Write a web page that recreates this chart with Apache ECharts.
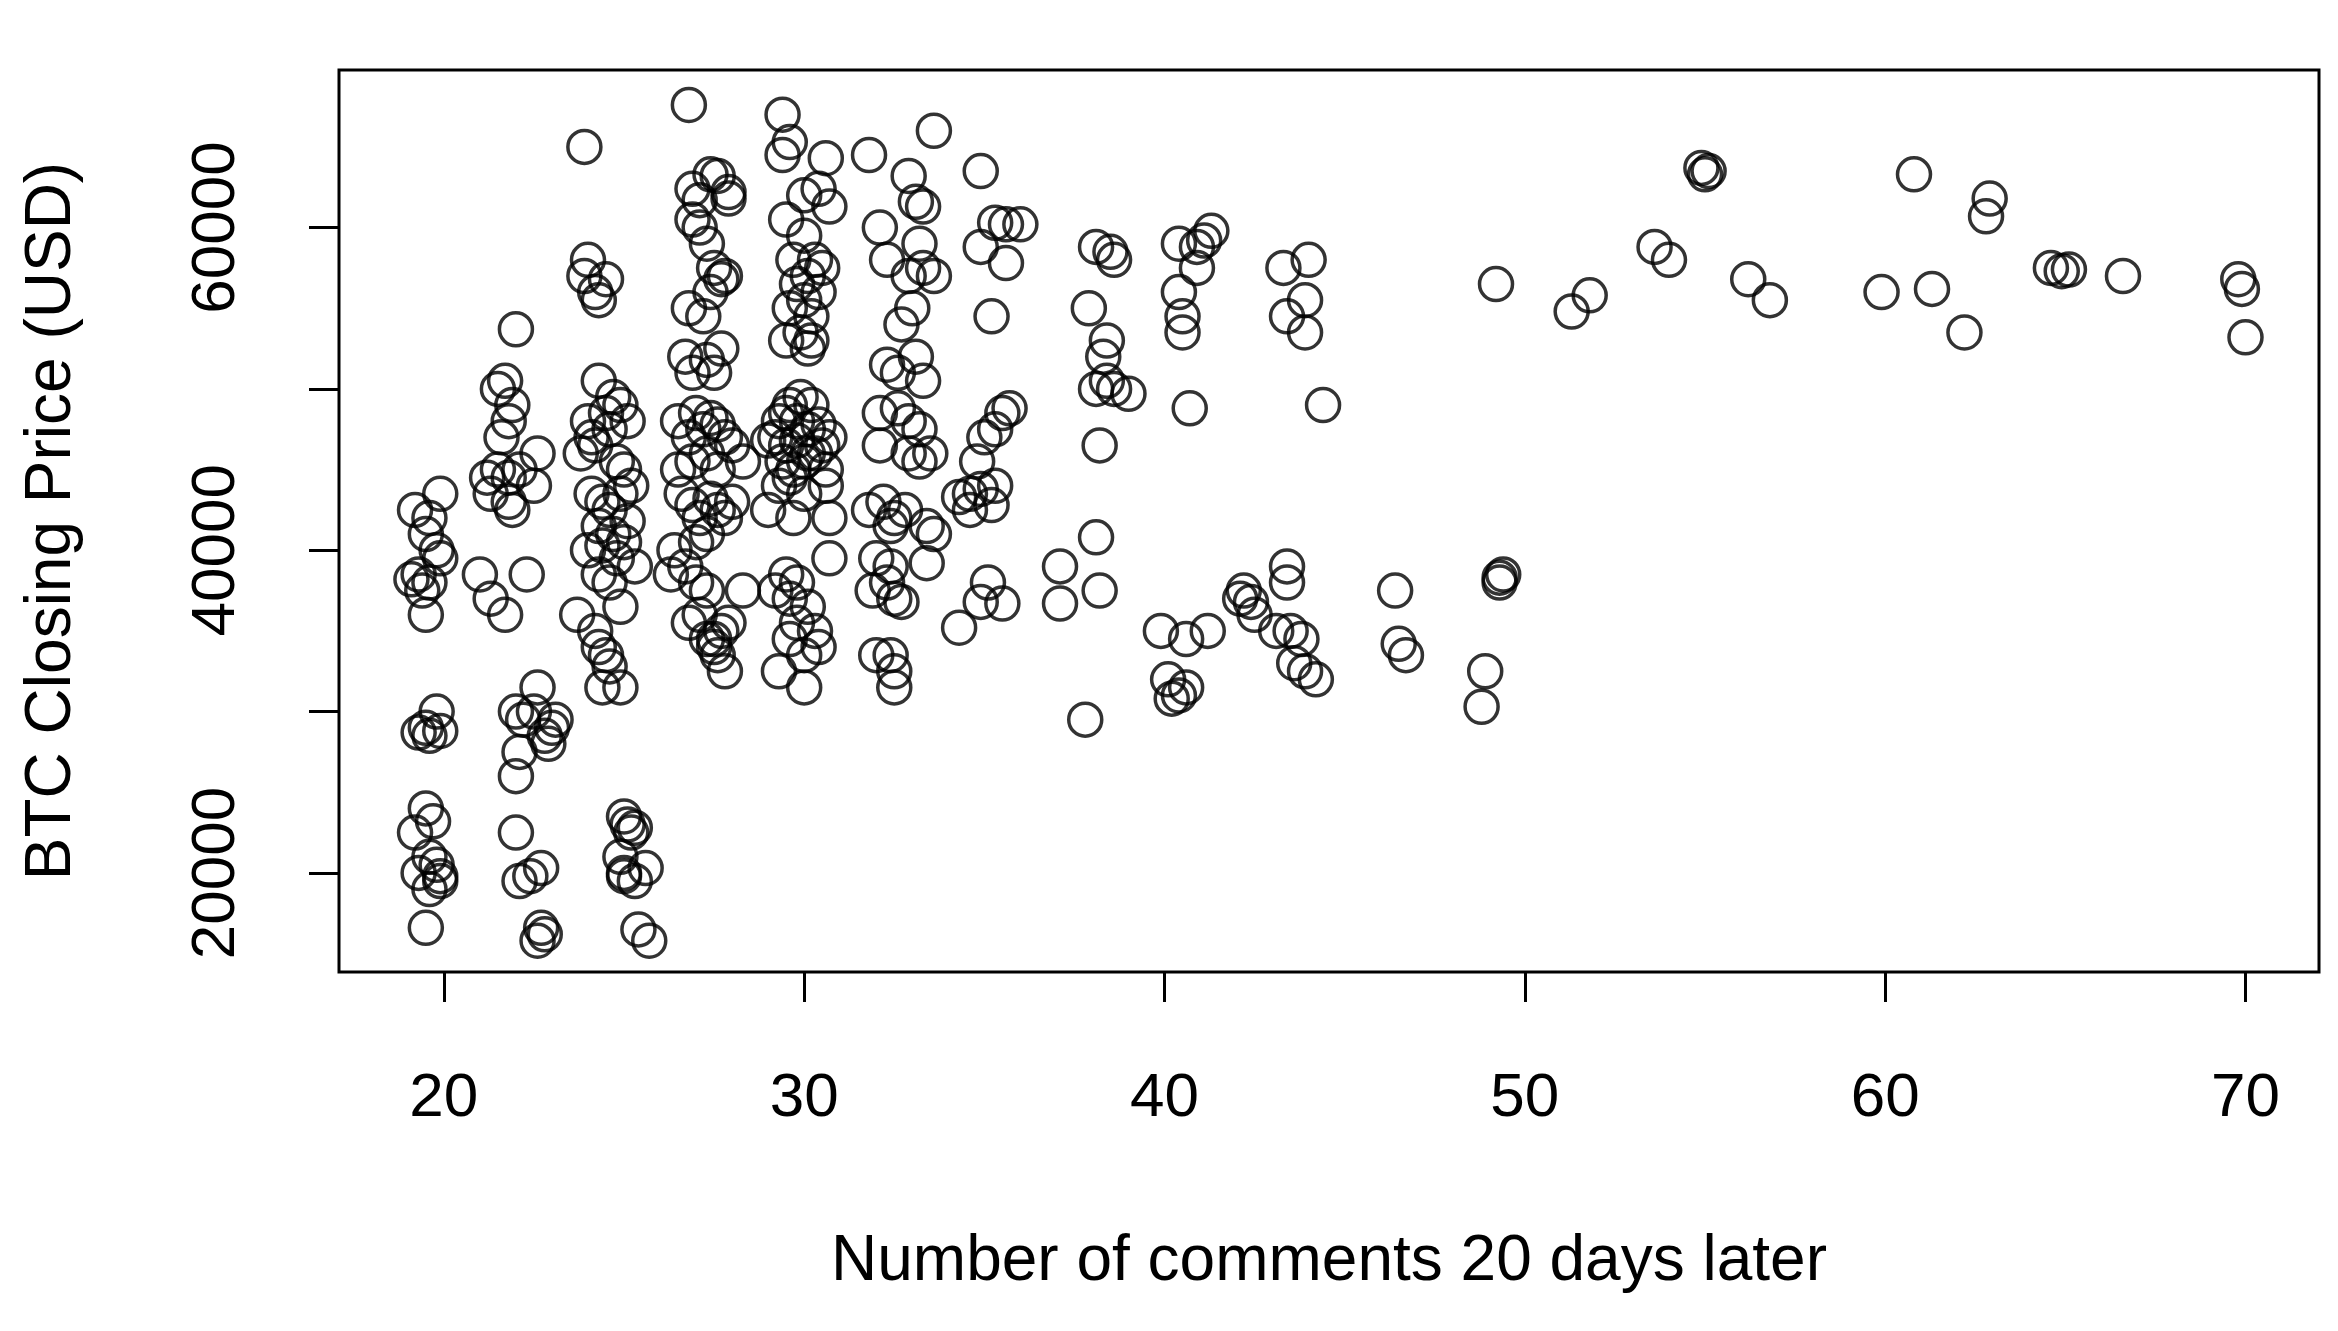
<!DOCTYPE html>
<html>
<head>
<meta charset="utf-8">
<script src="https://cdn.jsdelivr.net/npm/echarts@6/dist/echarts.min.js"></script>
<style>html,body{margin:0;padding:0;background:#fff}#chart{width:2338px;height:1331px}</style>
</head>
<body>
<div id="chart"></div>
<script>
var xTicks = [20, 30, 40, 50, 60, 70];
var yTicks = [20000, 30000, 40000, 50000, 60000];
var yLabels = [20000, 40000, 60000];

// [comments 20 days later, BTC closing price]
var points = [
[19.2,42500],[19.6,42000],[19.9,43500],[19.5,41000],[19.8,40000],[19.3,38500],[19.6,38000],[19.9,39500],[19.4,37500],[19.1,38200],[19.5,36000],[19.5,29000],[19.8,30000],[19.6,28500],[19.9,28800],[19.3,28700],[19.5,24000],[19.7,23200],[19.2,22500],[19.6,21000],[19.8,20500],[19.3,20000],[19.9,19800],[19.6,19000],[19.9,19500],[19.5,16600],
[21.0,38500],[21.3,37000],[21.2,44500],[21.5,45000],[21.3,43500],[21.8,43000],[21.9,42500],[21.5,50000],[21.7,50500],[21.6,47000],[21.8,48000],[21.9,49000],[22.0,53700],[21.8,44500],[22.1,45000],[22.5,44000],[22.6,46000],[22.3,38500],[21.7,36000],[22.0,30000],[22.2,29500],[22.1,27500],[22.0,26000],[22.6,31500],[22.5,30000],[22.8,28500],[23.0,29000],[23.1,29500],[22.9,28000],[22.0,22500],[22.1,19500],[22.4,19800],[22.7,20300],[22.7,16600],[22.6,15800],[22.8,16200],
[23.9,65000],[24.0,58000],[23.9,57000],[24.2,56000],[24.3,55500],[24.5,56800],[23.8,46000],[24.0,48000],[24.1,47000],[24.3,50500],[24.5,48500],[24.6,47500],[24.7,49500],[24.9,49000],[25.1,48000],[24.2,46500],[24.8,45500],[25.0,45000],[25.2,44000],[24.1,43500],[24.4,43000],[24.6,42500],[24.9,43500],[24.3,41500],[24.7,41000],[25.1,41800],[24.0,40000],[24.4,40300],[24.8,39500],[25.0,40500],[25.3,39000],[24.3,38500],[24.6,38000],[23.7,36000],[24.2,35000],[24.3,34000],[24.5,33500],[24.6,32800],[24.4,31500],[24.9,31500],[24.9,36500],[25.0,23500],[25.1,23000],[25.2,22500],[25.3,22800],[24.9,21000],[25.0,19800],[25.3,19500],[25.6,20300],[25.4,16500],[25.7,15800],[25.0,20000],
[26.8,67600],[26.9,62400],[27.1,61700],[27.4,63300],[27.6,63200],[27.9,62200],[27.9,61800],[26.9,60500],[27.1,60000],[27.3,59000],[27.5,57500],[27.7,56800],[27.4,56000],[27.8,57000],[26.8,55000],[27.2,54500],[26.7,52000],[26.9,51000],[27.3,51800],[27.7,52500],[27.5,51000],[26.5,48000],[26.8,47000],[27.0,48500],[27.2,47500],[27.4,48200],[27.6,47800],[27.8,47000],[26.5,45000],[26.9,45500],[27.3,46000],[27.6,45000],[28.0,46500],[28.3,45500],[26.6,43500],[26.9,42800],[27.1,42000],[27.4,43200],[27.6,42500],[27.8,42000],[28.0,43000],[27.3,41000],[27.0,40500],[26.4,40000],[26.7,39000],[26.3,38500],[27.0,38000],[27.3,37500],[28.3,37500],[26.8,35500],[27.1,36000],[27.3,34500],[27.5,34000],[27.7,35000],[27.9,35500],[27.6,33500],[27.8,32500],[27.5,34500],
[29.4,67000],[29.4,64500],[29.6,65300],[30.6,64300],[30.0,62000],[30.4,62400],[30.7,61300],[29.5,60500],[30.0,59500],[30.3,58000],[29.7,58000],[30.5,57500],[29.8,56500],[30.1,57000],[30.4,56000],[29.6,55000],[30.0,55500],[30.2,54500],[29.5,53000],[29.9,53500],[30.2,53000],[30.1,52500],[29.3,48000],[29.6,49000],[29.9,49500],[30.2,49000],[29.5,48500],[29.8,48000],[30.1,47500],[30.4,47800],[29.2,47000],[29.5,46500],[29.8,46800],[30.1,46000],[30.5,46500],[30.7,47000],[29.0,46800],[29.4,45500],[29.7,45000],[30.0,45500],[30.3,46000],[30.6,45000],[29.3,44000],[29.6,44500],[30.0,43500],[30.6,44000],[29.0,42500],[29.7,42000],[30.7,42000],[30.7,39500],[29.5,38500],[29.8,38000],[29.2,37500],[29.6,37000],[30.1,36500],[29.8,35500],[30.3,35000],[29.6,34500],[30.4,34000],[29.3,32500],[30.0,33500],[30.0,31500],
[31.8,64500],[32.9,63200],[33.1,61600],[33.3,61300],[33.6,66000],[32.1,60000],[33.2,59000],[32.3,58000],[32.9,57000],[33.3,57500],[33.6,57000],[33.0,55000],[32.7,54000],[32.3,51500],[32.6,51000],[33.1,52000],[33.3,50500],[32.1,48500],[32.6,48800],[32.9,48000],[33.2,47500],[32.1,46500],[32.9,46000],[33.2,45500],[33.5,46000],[31.8,42500],[32.2,43000],[32.5,42000],[32.8,42500],[32.4,41500],[33.6,41000],[33.4,41500],[32.0,39500],[32.4,39000],[32.3,38000],[31.9,37500],[32.5,37000],[32.7,36800],[33.4,39200],[32.0,33500],[32.4,33500],[32.5,32500],[32.5,31500],
[34.9,63500],[35.3,60300],[35.6,60200],[36.0,60200],[34.9,58800],[35.6,57800],[35.2,54500],[35.5,48500],[35.7,48800],[35.3,47500],[35.0,47000],[34.8,45500],[34.3,43300],[34.6,43500],[34.9,43800],[35.3,44000],[35.2,42800],[34.6,42500],[35.1,38000],[34.9,36800],[35.5,36700],[34.3,35200],
[38.1,58800],[38.5,58500],[38.6,58000],[37.9,55000],[38.4,53000],[38.3,52000],[38.4,50500],[38.1,50000],[38.6,50000],[39.0,49700],[38.2,46500],[37.1,39000],[37.1,36700],[38.1,40800],[38.2,37500],[37.8,29500],
[40.4,59000],[40.9,58800],[41.1,59200],[41.3,59800],[40.9,57500],[40.4,56000],[40.5,54500],[40.5,53500],[40.7,48800],[39.9,35000],[40.6,34500],[41.2,35000],[40.1,32000],[40.6,31500],[40.2,30800],[40.4,31000],
[43.3,57500],[44.0,58000],[43.9,55500],[43.4,54500],[43.9,53500],[44.4,49000],[42.1,37000],[42.4,36800],[42.5,36000],[42.2,37500],[43.4,39000],[43.4,38000],[43.1,35000],[43.5,35000],[43.8,34500],[43.6,33000],[43.9,32500],[44.2,32000],
[46.4,37500],[46.5,34200],[46.7,33500],[49.2,56500],[48.9,32500],[48.8,30300],[49.3,38300],[49.4,38500],[49.3,38000],
[51.3,54800],[51.8,55800],[53.6,58800],[54.0,58000],[54.9,63700],[55.1,63500],[55.0,63300],[56.2,56800],[56.8,55500],[59.9,56000],[60.8,63300],[61.3,56200],[62.2,53500],[62.8,60700],[62.9,61800],[64.6,57500],[64.9,57300],[65.1,57400],[66.6,57000],[69.8,56800],[69.9,56200],[70.0,53200]
];

var myChart = echarts.init(document.getElementById('chart'));
var font = 'Liberation Sans, Arial, sans-serif';
var option = {
  animation: false,
  backgroundColor: '#fff',
  grid: {
    left: 339, right: 19, top: 70, bottom: 359,
    show: true, borderColor: '#000', borderWidth: 3
  },
  xAxis: {
    type: 'value',
    min: 17.09, max: 72.04,
    name: 'Number of comments 20 days later',
    nameLocation: 'middle',
    nameGap: 258,
    nameTextStyle: { fontFamily: font, fontSize: 64, color: '#000' },
    axisLine: { show: false },
    splitLine: { show: false },
    axisTick: { show: true, length: 30, lineStyle: { color: '#000', width: 3 },
      customValues: xTicks },
    axisLabel: { fontFamily: font, fontSize: 62, color: '#000', margin: 96,
      customValues: xTicks }
  },
  yAxis: {
    type: 'value',
    min: 13860, max: 69767,
    name: 'BTC Closing Price (USD)',
    nameLocation: 'middle',
    nameGap: 255,
    nameTextStyle: { fontFamily: font, fontSize: 64, color: '#000' },
    axisLine: { show: false },
    splitLine: { show: false },
    axisTick: { show: true, length: 30, lineStyle: { color: '#000', width: 3 },
      customValues: yTicks },
    axisLabel: { fontFamily: font, fontSize: 62, color: '#000', margin: 91, rotate: 90,
      customValues: yLabels, formatter: function (v) { return String(v); } }
  },
  series: [{
    type: 'scatter',
    data: points,
    symbol: 'circle',
    symbolSize: 33,
    itemStyle: { color: 'rgba(0,0,0,0)', borderColor: '#000', borderWidth: 3.5 }
  }]
};
myChart.setOption(option);
</script>
</body>
</html>
